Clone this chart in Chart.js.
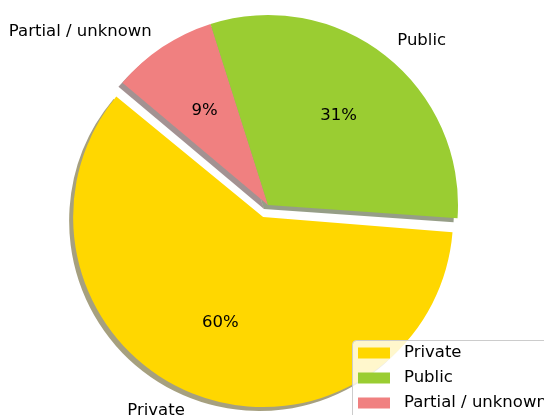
<!DOCTYPE html>
<html>
<head>
<meta charset="utf-8">
<title>Ownership</title>
<script src="https://cdn.jsdelivr.net/npm/chart.js@4.4.0/dist/chart.umd.min.js"></script>
<style>
  html, body { margin: 0; padding: 0; background: #fff; }
</style>
</head>
<body>
<canvas id="ownershipPie" width="544" height="415"></canvas>
<script>
const categories = ['Private', 'Public', 'Partial / unknown'];
const shares = [60, 31, 9];
const colours = ['#ffd700', '#9acd32', '#f08080'];
const explodePx = [13, 0, 0];
const startAngle = 140; // degrees, counter-clockwise from 3 o'clock

// chart.js goes clockwise, so hand it the slices back to front
const order = [2, 1, 0];
const pick = arr => order.map(i => arr[i]);

const FONT = '16.5px "DejaVu Sans"';

function shadowOf(hex) {
  const n = parseInt(hex.slice(1), 16);
  const r = (n >> 16) & 255, g = (n >> 8) & 255, b = n & 255;
  return 'rgba(' + Math.round(r * 0.3) + ',' + Math.round(g * 0.3) + ',' + Math.round(b * 0.3) + ',0.5)';
}

const pieExtras = {
  id: 'pieExtras',
  beforeDatasetsDraw(chart) {
    const meta = chart.getDatasetMeta(0);
    const R = meta.controller.outerRadius;
    const ctx = chart.ctx;
    // arc.draw() grows an offset slice by offset/4, keep it at the normal radius
    meta.data.forEach(arc => {
      const off = (arc.options.offset || 0) / 4;
      const fix = 1 - Math.sin(Math.min(Math.PI, arc.circumference));
      arc.outerRadius = R - off * fix;
    });
    // drop shadows under all slices
    meta.data.forEach(arc => {
      const off = (arc.options.offset || 0) / 4;
      const mid = (arc.startAngle + arc.endAngle) / 2;
      const cx = arc.x + Math.cos(mid) * off - 4;
      const cy = arc.y + Math.sin(mid) * off + 4;
      ctx.save();
      ctx.fillStyle = shadowOf(arc.options.backgroundColor);
      ctx.beginPath();
      ctx.moveTo(cx, cy);
      ctx.arc(cx, cy, R, arc.startAngle, arc.endAngle);
      ctx.closePath();
      ctx.fill();
      ctx.restore();
    });
  },
  afterDatasetsDraw(chart) {
    const meta = chart.getDatasetMeta(0);
    const R = meta.controller.outerRadius;
    const ctx = chart.ctx;
    const data = chart.data.datasets[0].data;
    const total = data.reduce((a, b) => a + b, 0);
    ctx.save();
    ctx.font = FONT;
    ctx.fillStyle = '#000';
    ctx.textBaseline = 'middle';
    meta.data.forEach((arc, i) => {
      const off = (arc.options.offset || 0) / 4;
      const mid = (arc.startAngle + arc.endAngle) / 2;
      const cos = Math.cos(mid), sin = Math.sin(mid);
      const cx = arc.x + cos * off, cy = arc.y + sin * off;
      ctx.textAlign = cos > 0 ? 'left' : 'right';
      ctx.fillText(chart.data.labels[i], cx + cos * R * 1.1, cy + sin * R * 1.1);
      ctx.textAlign = 'center';
      ctx.fillText(Math.round(data[i] / total * 100) + '%', cx + cos * R * 0.6, cy + sin * R * 0.6);
    });
    ctx.restore();
  },
  afterDraw(chart) {
    // legend box in the lower right corner, runs off the canvas edge
    const ctx = chart.ctx;
    ctx.save();
    ctx.fillStyle = 'rgba(255,255,255,0.8)';
    ctx.strokeStyle = '#cccccc';
    ctx.lineWidth = 1;
    ctx.beginPath();
    ctx.roundRect(352.5, 340.5, 240, 100, 4);
    ctx.fill();
    ctx.stroke();
    ctx.font = FONT;
    ctx.textBaseline = 'middle';
    ctx.textAlign = 'left';
    categories.forEach((name, i) => {
      const rowY = 353 + i * 25;
      ctx.fillStyle = colours[i];
      ctx.fillRect(358, rowY - 5.5, 32, 11);
      ctx.fillStyle = '#000';
      ctx.fillText(name, 404, rowY);
    });
    ctx.restore();
  }
};

new Chart(document.getElementById('ownershipPie'), {
  type: 'pie',
  data: {
    labels: pick(categories),
    datasets: [{
      data: pick(shares),
      backgroundColor: pick(colours),
      offset: pick(explodePx).map(d => d * 4),
      borderWidth: 0
    }]
  },
  options: {
    responsive: false,
    animation: false,
    events: [],
    devicePixelRatio: 1,
    rotation: 90 - startAngle,
    radius: 190,
    layout: { padding: { left: 0, right: 8, top: 0, bottom: 5 } },
    plugins: {
      legend: { display: false },
      tooltip: { enabled: false }
    }
  },
  plugins: [pieExtras]
});
</script>
</body>
</html>
